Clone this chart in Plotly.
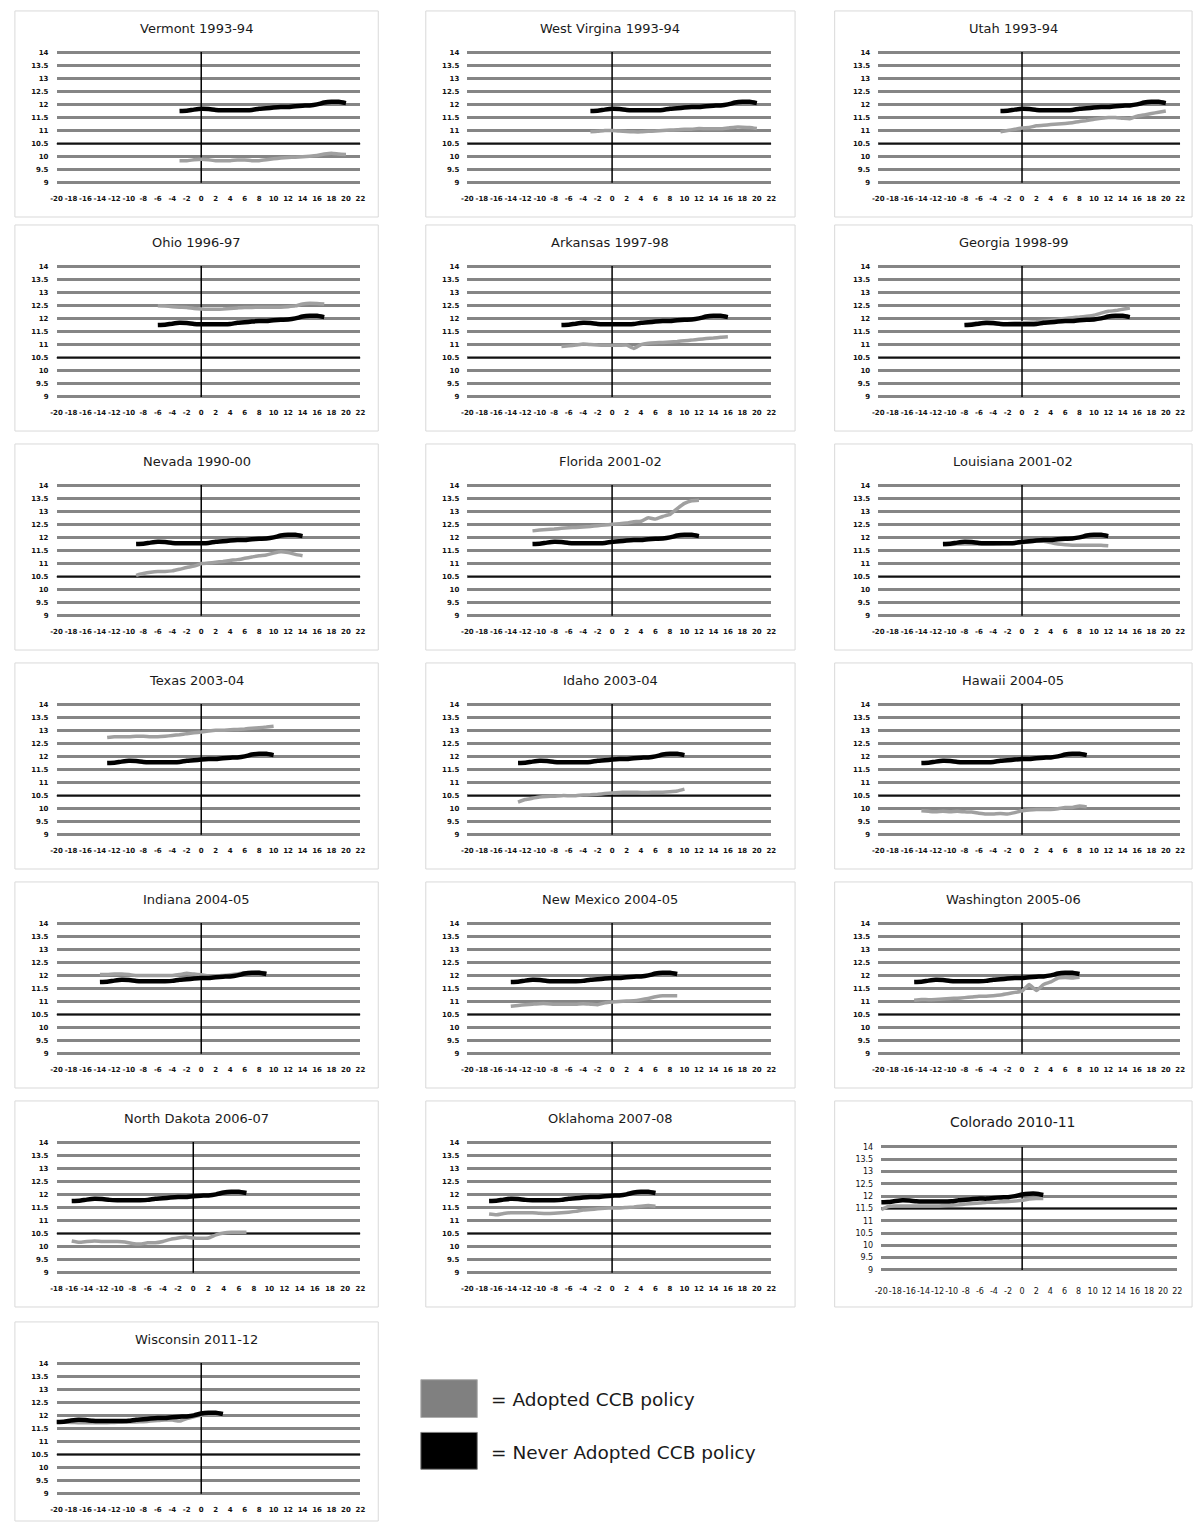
import plotly.graph_objects as go

# ---- data -------------------------------------------------------------
# Average value for states that never adopted a CCB policy, 24 consecutive years.
NEVER_ADOPTED = [11.75, 11.76, 11.80, 11.83, 11.82, 11.79, 11.78, 11.78, 11.78, 11.78,
                 11.79, 11.83, 11.85, 11.88, 11.90, 11.90, 11.93, 11.95, 11.96, 12.00,
                 12.07, 12.10, 12.10, 12.05]

PANEL_TITLES = ["Vermont 1993-94", "West Virgina 1993-94", "Utah 1993-94",
                "Ohio 1996-97", "Arkansas 1997-98", "Georgia 1998-99",
                "Nevada 1990-00", "Florida 2001-02", "Louisiana 2001-02",
                "Texas 2003-04", "Idaho 2003-04", "Hawaii 2004-05",
                "Indiana 2004-05", "New Mexico 2004-05", "Washington 2005-06",
                "North Dakota 2006-07", "Oklahoma 2007-08", "Colorado 2010-11",
                "Wisconsin 2011-12"]

# first year of each series, in years relative to adoption
SERIES_START = [-3, -3, -3, -6, -7, -8, -9, -11, -11, -13, -13, -14,
                -14, -14, -15, -16, -17, -20, -20]

# left end of each panel's year axis
AXIS_START = [-20] * 15 + [-18, -20, -20, -20]

ADOPTED_VT = [9.85, 9.85, 9.88, 9.90, 9.88, 9.85, 9.85, 9.85, 9.87, 9.87, 9.85, 9.85,
              9.88, 9.92, 9.95, 9.97, 9.98, 10.00, 10.02, 10.05, 10.10, 10.13, 10.10, 10.08]
ADOPTED_WV = [10.95, 10.97, 11.00, 11.00, 10.98, 10.96, 10.95, 10.95, 10.97, 10.98, 11.00, 11.02,
              11.03, 11.05, 11.05, 11.08, 11.07, 11.07, 11.07, 11.10, 11.13, 11.13, 11.12, 11.08]
ADOPTED_UT = [10.95, 11.00, 11.05, 11.10, 11.12, 11.18, 11.20, 11.23, 11.25, 11.27, 11.30, 11.35,
              11.38, 11.43, 11.47, 11.50, 11.50, 11.47, 11.45, 11.55, 11.60, 11.65, 11.70, 11.75]
ADOPTED_OH = [12.48, 12.47, 12.45, 12.43, 12.42, 12.38, 12.36, 12.35, 12.35, 12.36, 12.38, 12.40,
              12.42, 12.42, 12.43, 12.43, 12.43, 12.43, 12.45, 12.48, 12.55, 12.58, 12.57, 12.55]
ADOPTED_AR = [10.93, 10.95, 10.98, 11.02, 11.00, 10.98, 10.97, 10.97, 10.97, 10.98, 10.85, 11.00,
              11.05, 11.07, 11.08, 11.10, 11.12, 11.15, 11.17, 11.20, 11.23, 11.25, 11.28, 11.30]
ADOPTED_GA = [11.75, 11.80, 11.82, 11.80, 11.80, 11.80, 11.80, 11.82, 11.83, 11.85, 11.87, 11.90,
              11.93, 11.97, 12.00, 12.03, 12.05, 12.08, 12.12, 12.20, 12.27, 12.30, 12.35, 12.40]
ADOPTED_NV = [10.55, 10.62, 10.67, 10.70, 10.70, 10.72, 10.78, 10.85, 10.90, 11.00, 11.02, 11.05,
              11.08, 11.12, 11.15, 11.20, 11.25, 11.30, 11.33, 11.40, 11.45, 11.42, 11.35, 11.30]
ADOPTED_FL = [12.25, 12.28, 12.30, 12.32, 12.35, 12.37, 12.38, 12.40, 12.42, 12.45, 12.47, 12.50,
              12.52, 12.55, 12.60, 12.62, 12.75, 12.70, 12.80, 12.88, 13.10, 13.30, 13.40, 13.42]
ADOPTED_LA = [11.72, 11.73, 11.75, 11.75, 11.75, 11.75, 11.75, 11.75, 11.76, 11.77, 11.77, 11.80,
              11.83, 11.87, 11.85, 11.80, 11.75, 11.72, 11.70, 11.70, 11.70, 11.70, 11.70, 11.68]
ADOPTED_TX = [12.72, 12.75, 12.75, 12.75, 12.77, 12.77, 12.75, 12.75, 12.77, 12.80, 12.83, 12.87,
              12.90, 12.93, 12.97, 13.00, 13.00, 13.02, 13.03, 13.05, 13.08, 13.10, 13.12, 13.15]
ADOPTED_ID = [10.25, 10.35, 10.40, 10.45, 10.47, 10.48, 10.50, 10.50, 10.50, 10.52, 10.53, 10.55,
              10.58, 10.60, 10.62, 10.63, 10.63, 10.62, 10.62, 10.63, 10.63, 10.65, 10.68, 10.75]
ADOPTED_HI = [9.92, 9.90, 9.88, 9.90, 9.88, 9.90, 9.88, 9.87, 9.83, 9.80, 9.80, 9.82,
              9.80, 9.85, 9.92, 9.95, 9.97, 9.97, 9.97, 10.00, 10.05, 10.05, 10.10, 10.07]
ADOPTED_IN = [12.03, 12.03, 12.05, 12.05, 12.03, 12.00, 12.00, 12.00, 12.00, 12.00, 12.00, 12.03,
              12.08, 12.05, 12.02, 11.98, 11.98, 12.00, 12.02, 12.05, 12.10, 12.10, 12.12, 12.10]
ADOPTED_NM = [10.82, 10.85, 10.88, 10.90, 10.92, 10.92, 10.90, 10.90, 10.90, 10.90, 10.92, 10.90,
              10.88, 10.95, 10.98, 11.00, 11.02, 11.03, 11.07, 11.12, 11.18, 11.22, 11.22, 11.22]
ADOPTED_WA = [11.05, 11.08, 11.07, 11.08, 11.10, 11.12, 11.13, 11.15, 11.17, 11.20, 11.20, 11.22,
              11.25, 11.30, 11.35, 11.40, 11.65, 11.42, 11.65, 11.75, 11.90, 11.92, 11.90, 11.93]
ADOPTED_ND = [10.22, 10.17, 10.20, 10.22, 10.20, 10.20, 10.20, 10.18, 10.12, 10.10, 10.15, 10.15,
              10.20, 10.28, 10.33, 10.37, 10.33, 10.32, 10.33, 10.45, 10.52, 10.55, 10.55, 10.55]
ADOPTED_OK = [11.25, 11.22, 11.27, 11.30, 11.30, 11.30, 11.30, 11.28, 11.27, 11.28, 11.30, 11.32,
              11.35, 11.40, 11.42, 11.45, 11.47, 11.48, 11.48, 11.50, 11.52, 11.55, 11.57, 11.55]
ADOPTED_CO = [11.45, 11.58, 11.60, 11.60, 11.60, 11.60, 11.60, 11.60, 11.60, 11.62, 11.63, 11.65,
              11.68, 11.70, 11.72, 11.75, 11.75, 11.77, 11.78, 11.80, 11.83, 11.88, 11.90, 11.90]
ADOPTED_WI = [11.75, 11.74, 11.73, 11.72, 11.72, 11.72, 11.72, 11.72, 11.73, 11.74, 11.75, 11.75,
              11.76, 11.78, 11.80, 11.82, 11.82, 11.78, 11.88, 11.95, 12.00, 12.02, 12.02, 12.00]

ADOPTED = [ADOPTED_VT, ADOPTED_WV, ADOPTED_UT, ADOPTED_OH, ADOPTED_AR, ADOPTED_GA,
           ADOPTED_NV, ADOPTED_FL, ADOPTED_LA, ADOPTED_TX, ADOPTED_ID, ADOPTED_HI,
           ADOPTED_IN, ADOPTED_NM, ADOPTED_WA, ADOPTED_ND, ADOPTED_OK, ADOPTED_CO,
           ADOPTED_WI]

Y_TICKS = [9, 9.5, 10, 10.5, 11, 11.5, 12, 12.5, 13, 13.5, 14]
Y_TICK_TEXT = ["9", "9.5", "10", "10.5", "11", "11.5", "12", "12.5", "13", "13.5", "14"]

# ---- layout geometry (pixels) ----------------------------------------
W, H = 1204, 1528
ROW_TOPS = [8, 223, 443, 663, 883, 1103, 1325]
PANEL_X = [(8, 375), (423, 796), (836, 1197)]
PLOT_X = [(50, 357), (465, 772), (880, 1185)]

FONT = "DejaVu Sans"
GRAY = "#a0a0a0"
GRID = "#858585"


def fx(px):
    return px / W


def fy(py):
    return 1 - py / H


fig = go.Figure()
shapes = []
annotations = []

for i, title in enumerate(PANEL_TITLES):
    row, col = divmod(i, 3)
    top = ROW_TOPS[row]
    n = i + 1
    xa = "x" if n == 1 else f"x{n}"
    ya = "y" if n == 1 else f"y{n}"
    special = title.startswith("Colorado")

    px0, px1 = PLOT_X[col]
    if special:
        px0, px1 = 883, 1182
        py0, py1 = top + 45, top + 171
    else:
        py0, py1 = top + 40, top + 174

    bx0, bx1 = PANEL_X[col]
    by1 = min(top + 207, H - 3)

    # panel frame
    shapes.append(dict(type="rect", xref="paper", yref="paper",
                       x0=fx(bx0), x1=fx(bx1), y0=fy(by1), y1=fy(top),
                       line=dict(color="#d9d9d9", width=1), layer="below"))

    # title
    annotations.append(dict(text=title, xref="paper", yref="paper",
                            x=fx((bx0 + bx1) / 2), y=fy(top + (21 if special else 18)),
                            xanchor="center", yanchor="middle", showarrow=False,
                            font=dict(family=FONT, size=14 if special else 13,
                                      color="#1a1a1a")))

    x_lo = AXIS_START[i]
    tickv = list(range(x_lo, 23, 2))
    if special:
        tick_font = dict(family=FONT, size=8, color="#111")
    else:
        tick_font = dict(family=FONT, size=7, color="#111", weight="bold")

    fig.layout[("xaxis" if n == 1 else f"xaxis{n}")] = dict(
        domain=[fx(px0), fx(px1)], anchor=ya, range=[x_lo, 22],
        showgrid=False, zeroline=False, showline=False,
        tickmode="array", tickvals=tickv, ticktext=[str(v) for v in tickv],
        tickangle=0, tickfont=tick_font, ticks="",
        ticklabelstandoff=14 if special else 9, fixedrange=True)
    fig.layout[("yaxis" if n == 1 else f"yaxis{n}")] = dict(
        domain=[fy(py1), fy(py0)], anchor=xa, range=[8.95, 14.05],
        showgrid=True, gridcolor=GRID, gridwidth=3, zeroline=False, showline=False,
        tickmode="array", tickvals=Y_TICKS, ticktext=Y_TICK_TEXT,
        tickfont=tick_font, ticks="", ticklabelstandoff=7, fixedrange=True)

    # thin dark gridline and the vertical line at the adoption year
    dark = 11.5 if special else 10.5
    shapes.append(dict(type="line", xref=xa, yref=ya, x0=x_lo, x1=22, y0=dark, y1=dark,
                       line=dict(color="#111", width=1.5), layer="between"))
    shapes.append(dict(type="line", xref=xa, yref=ya, x0=0, x1=0, y0=9, y1=14,
                       line=dict(color="#000", width=1.5), layer="between"))

    start = SERIES_START[i]
    adopted = ADOPTED[i]
    fig.add_trace(go.Scatter(
        x=[start + k for k in range(len(adopted))], y=adopted,
        xaxis=xa, yaxis=ya, mode="lines", showlegend=False, hoverinfo="skip",
        line=dict(color=GRAY, width=3.5, shape="spline", smoothing=0.4)))
    fig.add_trace(go.Scatter(
        x=[start + k for k in range(len(NEVER_ADOPTED))], y=NEVER_ADOPTED,
        xaxis=xa, yaxis=ya, mode="lines", showlegend=False, hoverinfo="skip",
        line=dict(color="#000", width=4.5, shape="spline", smoothing=0.4)))

# legend swatches
shapes.append(dict(type="rect", xref="paper", yref="paper",
                   x0=fx(418), x1=fx(475), y0=fy(1421), y1=fy(1383),
                   fillcolor="#808080", line=dict(color="#b0b0b0", width=1)))
shapes.append(dict(type="rect", xref="paper", yref="paper",
                   x0=fx(418), x1=fx(475), y0=fy(1473), y1=fy(1436),
                   fillcolor="#000000", line=dict(color="#808080", width=1)))
for txt, yc in [("= Adopted CCB policy", 1403), ("= Never Adopted CCB policy", 1456)]:
    annotations.append(dict(text=txt, xref="paper", yref="paper", x=fx(487), y=fy(yc),
                            xanchor="left", yanchor="middle", showarrow=False,
                            font=dict(family=FONT, size=18.5, color="#1a1a1a")))

fig.update_layout(width=W, height=H, margin=dict(l=0, r=0, t=0, b=0),
                  paper_bgcolor="white", plot_bgcolor="white",
                  shapes=shapes, annotations=annotations, showlegend=False)

fig.write_html("out.html")
